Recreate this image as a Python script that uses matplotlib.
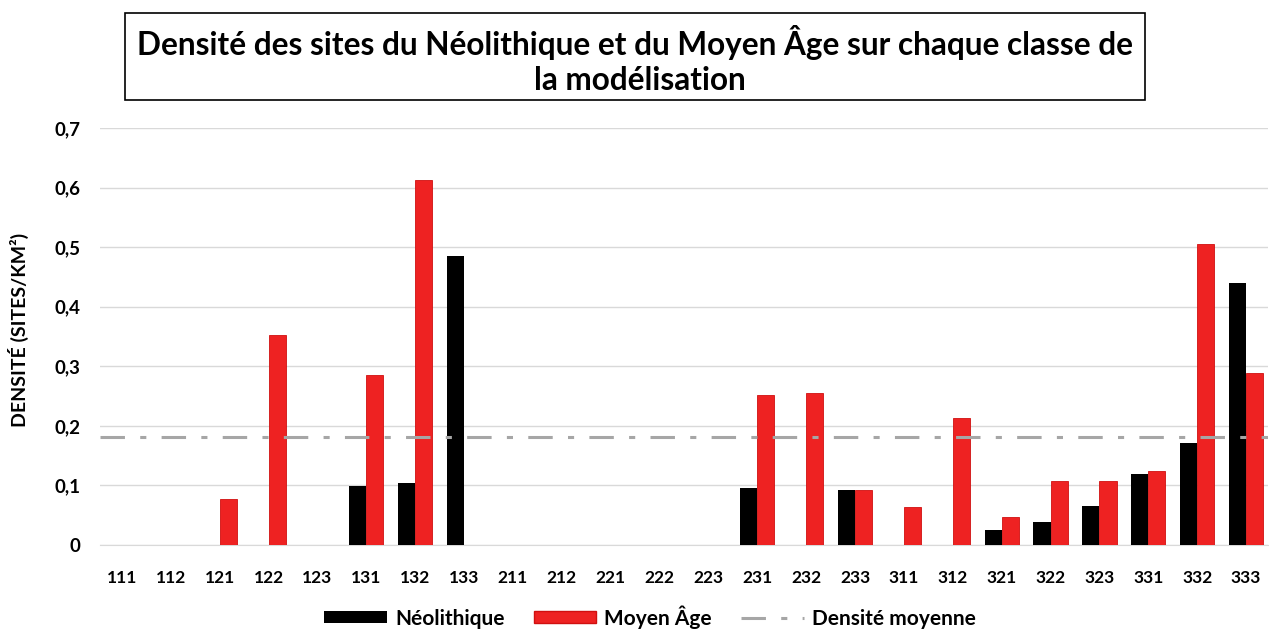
import matplotlib
matplotlib.use("Agg")
import matplotlib.pyplot as plt
from matplotlib.patches import Rectangle, Patch
from matplotlib.lines import Line2D
import numpy as np

categories = ["111", "112", "121", "122", "123", "131", "132", "133", "211", "212", "221", "222",
              "223", "231", "232", "233", "311", "312", "321", "322", "323", "331", "332", "333"]
neolithique = [0, 0, 0, 0, 0, 0.099, 0.104, 0.485, 0, 0, 0, 0,
               0, 0.095, 0, 0.092, 0, 0, 0.025, 0.038, 0.065, 0.119, 0.171, 0.440]
moyen_age = [0, 0, 0.078, 0.352, 0, 0.285, 0.612, 0, 0, 0, 0, 0,
             0, 0.252, 0.255, 0.092, 0.064, 0.213, 0.047, 0.107, 0.107, 0.125, 0.506, 0.289]
densite_moyenne = 0.181
yticks = [0, 0.1, 0.2, 0.3, 0.4, 0.5, 0.6, 0.7]
ytick_labels = ["0", "0,1", "0,2", "0,3", "0,4", "0,5", "0,6", "0,7"]

plt.rcParams['font.family'] = ['Lato', 'DejaVu Sans']

fig = plt.figure(figsize=(12.69, 6.3), dpi=100)
ax = fig.add_axes([100/1269, 1-545/630, (1268-100)/1269, (545-128)/630])

x = np.arange(len(categories))
w = 0.35
ax.bar(x - w/2, neolithique, width=w, color="black", zorder=3, label="Néolithique")
ax.bar(x + w/2, moyen_age, width=w, color="#ee2222", edgecolor="#d01010", linewidth=0.6,
       zorder=3, label="Moyen Âge")
ax.axhline(densite_moyenne, color="#a6a6a6", linewidth=2.2, dashes=(8, 5, 2, 5),
           zorder=4, label="Densité moyenne")

ax.set_xlim(-0.45, 23.45)
ax.set_ylim(0, 0.7)
ax.set_yticks(yticks)
ax.set_yticklabels(ytick_labels)
ax.set_xticks(x)
ax.set_xticklabels(categories)
ax.grid(axis="y", color="#d9d9d9", linewidth=1, zorder=0)
for s in ["top", "right", "left"]:
    ax.spines[s].set_visible(False)
ax.spines["bottom"].set_color("#d9d9d9")
ax.tick_params(axis="both", length=0)
ax.tick_params(axis="x", labelsize=12.5, pad=18)
ax.tick_params(axis="y", labelsize=13.5, pad=14)
for lab in ax.get_xticklabels() + ax.get_yticklabels():
    lab.set_fontweight("bold")

fig.text(18/1269, 1-330/630, "DENSITÉ (SITES/KM²)", rotation=90, ha="center", va="center",
         fontsize=14, fontweight="bold")

# title box
fig.patches.append(Rectangle((125/1269, 1-100/630), (1145-125)/1269, (100-13)/630,
                             transform=fig.transFigure, fill=False, edgecolor="black",
                             linewidth=1.2))
fig.text(635/1269, 1-43/630, "Densité des sites du Néolithique et du Moyen Âge sur chaque classe de",
         ha="center", va="center", fontsize=22.7, fontweight="bold")
fig.text(640/1269, 1-80/630, "la modélisation", ha="center", va="center",
         fontsize=22.7, fontweight="bold")

handles = [Patch(facecolor="black"), Patch(facecolor="#ee2222", edgecolor="#d01010"),
           Line2D([], [], color="#a6a6a6", linewidth=2.2, dashes=(8, 5, 2, 5))]
leg = fig.legend(handles, ["Néolithique", "Moyen Âge", "Densité moyenne"], ncol=3,
                 loc="center", bbox_to_anchor=(650/1269, 1-617/630), frameon=False,
                 prop={"size": 15, "weight": "bold"}, handlelength=3.0, handleheight=0.5,
                 columnspacing=1.4, handletextpad=0.4)

fig.savefig("out.png", dpi=100)
